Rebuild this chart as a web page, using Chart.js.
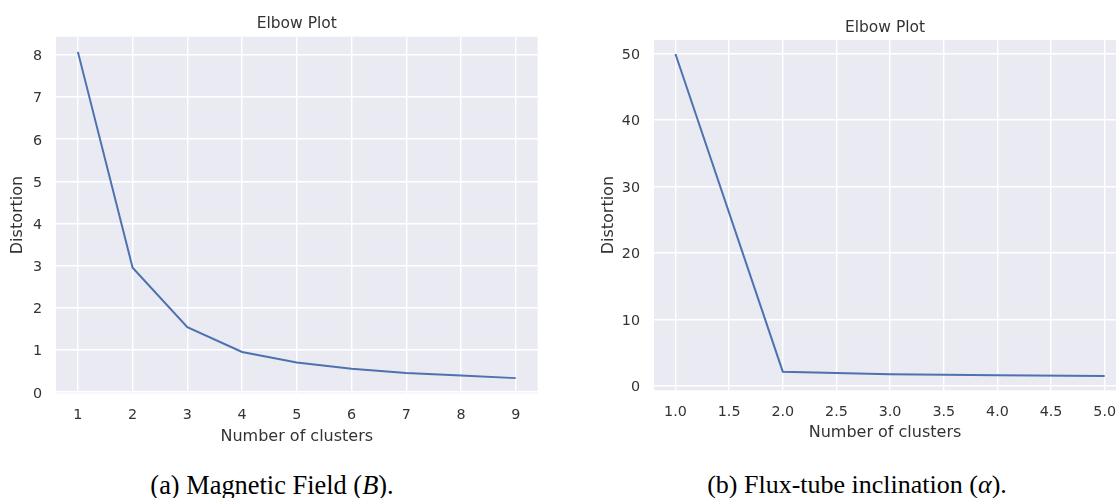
<!DOCTYPE html>
<html>
<head>
<meta charset="utf-8">
<script src="https://cdn.jsdelivr.net/npm/chart.js@4/dist/chart.umd.min.js"></script>
<style>
  html, body { margin: 0; padding: 0; background: #fff; width: 1116px; height: 498px; overflow: hidden; position: relative; }
  canvas { position: absolute; top: 0; }
  #chartA { left: 0; }
  #chartB { left: 590px; }
  .caption {
    position: absolute; top: 469px; width: 420px; text-align: center;
    font-family: "Liberation Serif", "Times New Roman", serif; font-size: 26px; color: #000;
    line-height: 32px; white-space: nowrap;
  }
</style>
</head>
<body>
<canvas id="chartA" width="560" height="450"></canvas>
<canvas id="chartB" width="546" height="446"></canvas>
<div class="caption" style="left:62px; font-size:26.4px">(a) Magnetic Field (<i>B</i>).</div>
<div class="caption" style="left:647px">(b) Flux-tube inclination (<i>α</i>).</div>
<script>
// Magnetic field elbow data
const clustersA = [1, 2, 3, 4, 5, 6, 7, 8, 9];
const distortionA = [8.07, 2.95, 1.54, 0.95, 0.70, 0.55, 0.45, 0.39, 0.33];
const xTicksA = [1, 2, 3, 4, 5, 6, 7, 8, 9];
const yTicksA = [0, 1, 2, 3, 4, 5, 6, 7, 8];

// Flux-tube inclination elbow data
const clustersB = [1, 2, 3, 4, 5];
const distortionB = [49.9, 2.15, 1.76, 1.6, 1.5];
const xTicksB = [1.0, 1.5, 2.0, 2.5, 3.0, 3.5, 4.0, 4.5, 5.0];
const yTicksB = [0, 10, 20, 30, 40, 50];

const textColor = '#333333';

// paint seaborn-style background behind the grid
const bgPlugin = {
  id: 'plotBg',
  beforeDraw(chart) {
    const { ctx, chartArea: a } = chart;
    ctx.save();
    ctx.fillStyle = '#EAEAF2';
    ctx.fillRect(a.left, a.top, a.right - a.left, a.bottom - a.top);
    ctx.restore();
  }
};

function makeElbow(canvasId, xs, ys, xTicks, yTicks, cfg) {
  const ctx = document.getElementById(canvasId).getContext('2d');
  return new Chart(ctx, {
    type: 'line',
    data: {
      datasets: [{
        data: xs.map((x, i) => ({ x: x, y: ys[i] })),
        borderColor: '#4C72B0',
        borderWidth: 2,
        pointRadius: 0,
        tension: 0,
        fill: false
      }]
    },
    options: {
      responsive: false,
      animation: false,
      devicePixelRatio: 1,
      layout: { padding: { left: 0, right: cfg.padRight, top: 0, bottom: 0 } },
      plugins: {
        legend: { display: false },
        tooltip: { enabled: false },
        title: {
          display: true,
          fullSize: false, // center over the plot area like matplotlib
          text: 'Elbow Plot',
          color: textColor,
          font: { family: 'DejaVu Sans', size: 15.5, weight: 'normal' },
          padding: { top: cfg.titleTop, bottom: cfg.titleBottom }
        }
      },
      scales: {
        x: {
          type: 'linear',
          min: cfg.xMin,
          max: cfg.xMax,
          border: { display: false },
          grid: { color: '#FFFFFF', lineWidth: 1.4, drawTicks: false },
          afterBuildTicks: (s) => { s.ticks = xTicks.map(v => ({ value: v })); },
          afterFit: (s) => { s.height = cfg.xHeight; },
          ticks: {
            color: textColor,
            padding: 13.5,
            maxRotation: 0,
            autoSkip: false,
            font: { family: 'DejaVu Sans', size: 14.3 },
            callback: cfg.xFormat
          },
          title: {
            display: true,
            text: 'Number of clusters',
            color: textColor,
            font: { family: 'DejaVu Sans', size: 16 },
            padding: { top: 0, bottom: 4 }
          }
        },
        y: {
          type: 'linear',
          min: cfg.yMin,
          max: cfg.yMax,
          border: { display: false },
          grid: { color: '#FFFFFF', lineWidth: 1.4, drawTicks: false },
          afterBuildTicks: (s) => { s.ticks = yTicks.map(v => ({ value: v })); },
          afterFit: (s) => { s.width = cfg.yWidth; },
          ticks: {
            color: textColor,
            padding: 14,
            labelOffset: 1.8,
            autoSkip: false,
            font: { family: 'DejaVu Sans', size: 14.3 },
            callback: (v) => String(v)
          },
          title: {
            display: true,
            text: 'Distortion',
            color: textColor,
            font: { family: 'DejaVu Sans', size: 16 },
            padding: { top: cfg.yTitlePad, bottom: 0 }
          }
        }
      }
    },
    plugins: [bgPlugin]
  });
}

makeElbow('chartA', clustersA, distortionA, xTicksA, yTicksA, {
  xMin: 0.6, xMax: 9.4, yMin: -0.03, yMax: 8.43,
  padRight: 22.4, titleTop: 14.7, titleBottom: 3.4,
  xHeight: 56.7, yWidth: 56, yTitlePad: 8.7,
  xFormat: (v) => String(v)
});

makeElbow('chartB', clustersB, distortionB, xTicksB, yTicksB, {
  xMin: 0.8, xMax: 5.105, yMin: -0.65, yMax: 52.0,
  padRight: 20, titleTop: 18.7, titleBottom: 2.7,
  xHeight: 55.7, yWidth: 64, yTitlePad: 9.7,
  xFormat: (v) => Number(v).toFixed(1)
});
</script>
</body>
</html>
